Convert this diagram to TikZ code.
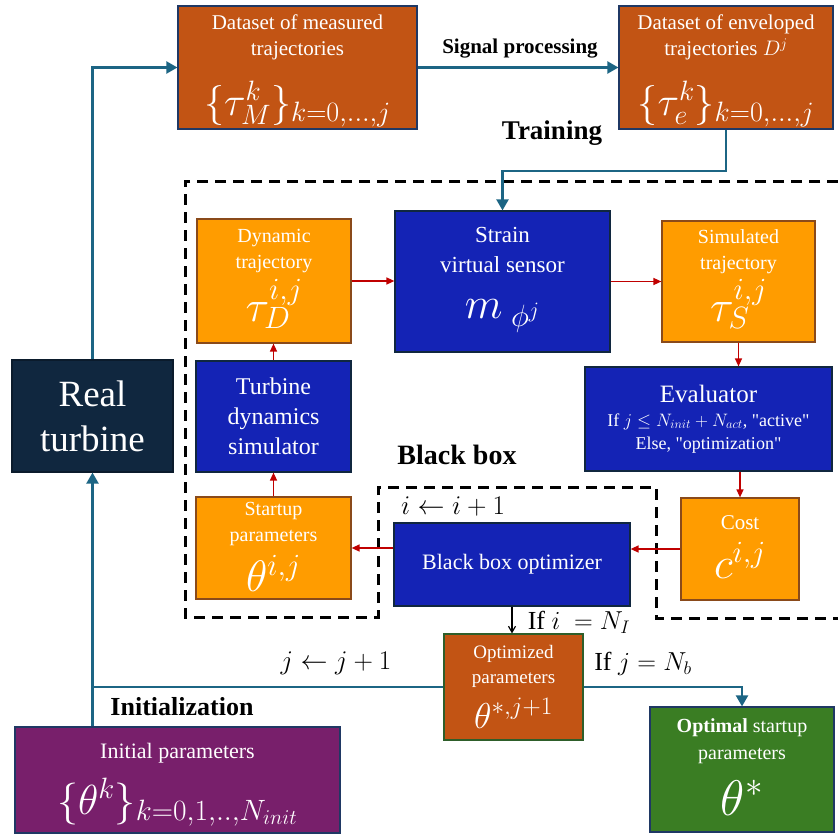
\RequirePackage{fix-cm}
\documentclass[tikz,border=0pt]{standalone}
\usepackage{fontspec}
\setmainfont{Liberation Serif}
\usetikzlibrary{arrows.meta}
\definecolor{burnt}{HTML}{C25414}
\definecolor{amber}{HTML}{FF9C00}
\definecolor{royal}{HTML}{1423B5}
\definecolor{navy}{HTML}{10273F}
\definecolor{plum}{HTML}{781F6B}
\definecolor{leaf}{HTML}{3A7D23}
\definecolor{flowblue}{HTML}{1C6584}
\definecolor{loopred}{HTML}{C00000}
\definecolor{edgeblue}{HTML}{1F3864}
\definecolor{edgebrown}{HTML}{8A4A1A}
\definecolor{edgegreen}{HTML}{2E5E2A}
\newcommand{\fsz}[2]{\fontsize{#1}{#2}\selectfont}
\newcommand{\dq}{\textquotedbl}
\begin{document}
\begin{tikzpicture}[x=1pt,y=-1pt,
  every node/.style={inner sep=0pt, align=center},
  boxbase/.style={draw, line width=1.2pt, text=white},
  dataset/.style={boxbase, fill=burnt, draw=edgeblue},
  stagebox/.style={boxbase, fill=amber, draw=edgebrown},
  engine/.style={boxbase, fill=royal, draw=navy},
  caption/.style={anchor=north, text=white},
  formula/.style={anchor=base, text=white},
  flow/.style={draw=flowblue, line width=2.2pt, -{Triangle[width=12pt,length=11pt]}},
  plainflow/.style={draw=flowblue, line width=2.2pt},
  loop/.style={draw=loopred, line width=1.4pt, -{Triangle[width=7pt,length=8pt]}},
  exitflow/.style={draw=black, line width=1.2pt, -{Straight Barb[width=7pt,length=6pt]}},
  region/.style={draw=black, line width=3pt, dash pattern=on 11pt off 7pt},
  tag/.style={font=\bfseries}]

\useasboundingbox (0,0) rectangle (838,835);

% training loop region and black-box region
\draw[region] (838,181) -- (185,181) -- (185,617) -- (378,617) -- (378,487)
  -- (656,487) -- (656,618) -- (838,618);

% ---------- boxes ----------
% data sets
\node[dataset, minimum width=239pt, minimum height=123pt] (meas) at (297.5,67.5) {};
\node[caption, font=\fsz{21}{26}] (measT) at (297.5,15) {Dataset of measured\\trajectories};
\node[formula, font=\fsz{40}{40}] (measM) at (297.5,115) {$\{\tau_M^{k}\}_{k=0,\dots,j}$};

\node[dataset, minimum width=214pt, minimum height=123pt] (env) at (726,67.5) {};
\node[caption, font=\fsz{21}{26}] (envT) at (726,15) {Dataset of enveloped\\trajectories $D^{j}$};
\node[formula, font=\fsz{40}{40}] (envM) at (726,115) {$\{\tau_e^{k}\}_{k=0,\dots,j}$};

% plant
\node[boxbase, fill=navy, draw=navy!70!black, minimum width=161pt, minimum height=112pt,
  font=\fsz{37}{45}] (real) at (92.5,416) {Real\\turbine};

% training loop
\node[stagebox, minimum width=154pt, minimum height=124pt] (dyn) at (274,281) {};
\node[caption, font=\fsz{20}{26}] (dynT) at (274,229) {Dynamic\\trajectory};
\node[formula, font=\fsz{44}{44}] (dynM) at (274,321) {$\tau_D^{i,j}$};

\node[engine, minimum width=215pt, minimum height=141pt] (strain) at (502.5,281.5) {};
\node[caption, font=\fsz{23}{30}] (strainT) at (502.5,227) {Strain\\virtual sensor};
\node[formula, font=\fsz{44}{44}] (strainM) at (502.5,318) {$m_{\;\phi^{j}}$};

\node[stagebox, minimum width=153pt, minimum height=121pt] (sim) at (738.5,281.5) {};
\node[caption, font=\fsz{20}{26}] (simT) at (738.5,229) {Simulated\\trajectory};
\node[formula, font=\fsz{44}{44}] (simM) at (738.5,321) {$\tau_S^{i,j}$};

\node[engine, minimum width=155pt, minimum height=111pt, font=\fsz{24}{30}] (tds) at (273.5,416.5)
  {Turbine\\dynamics\\simulator};
\node[engine, minimum width=247pt, minimum height=104pt, font=\fsz{18}{23}] (eval) at (708.5,419)
  {{\fsz{25}{30}Evaluator}\\[1pt]If $j\le N_{init}+N_{act}$, \dq active\dq\\Else, \dq optimization\dq};

\node[stagebox, minimum width=155pt, minimum height=102pt] (start) at (273.5,548) {};
\node[caption, font=\fsz{20}{26}] (startT) at (273.5,502) {Startup\\parameters};
\node[formula, font=\fsz{44}{44}] (startM) at (273.5,591) {$\theta^{i,j}$};

\node[engine, minimum width=236pt, minimum height=83pt, font=\fsz{22}{26}] (bbo) at (512,564.5)
  {Black box optimizer};

\node[stagebox, minimum width=118pt, minimum height=102pt] (cost) at (740,549) {};
\node[caption, font=\fsz{21}{26}] (costT) at (740,515.5) {Cost};
\node[formula, font=\fsz{44}{44}] (costM) at (740,578) {$c^{i,j}$};

% outputs and initialisation
\node[dataset, draw=edgegreen, minimum width=139pt, minimum height=106pt] (opt) at (513.5,687) {};
\node[caption, font=\fsz{19}{25}] (optT) at (513.5,645) {Optimized\\parameters};
\node[formula, font=\fsz{36}{36}] (optM) at (513.5,728) {$\theta^{*,j+1}$};

\node[boxbase, fill=plum, draw=edgeblue, minimum width=325pt, minimum height=106pt] (init) at (177.5,780) {};
\node[caption, font=\fsz{22}{28}] (initT) at (177.5,743) {Initial parameters};
\node[formula, font=\fsz{42}{42}] (initM) at (177.5,814) {$\{\theta^{k}\}_{k=0,1,..,N_{init}}$};

\node[boxbase, fill=leaf, draw=edgeblue, minimum width=184pt, minimum height=125pt] (optimal) at (742,769.5) {};
\node[caption, font=\fsz{20}{27}] (optimalT) at (742,718) {\textbf{Optimal} startup\\parameters};
\node[formula, font=\fsz{50}{50}] (optimalM) at (742,815) {$\theta^{*}$};

% ---------- labels ----------
\node[tag] (lsig) at (520,49) {\fsz{21}{21}Signal processing};
\node[tag] (ltrain) at (552,133) {\fsz{27}{27}Training};
\node[tag] (lbb) at (457,455) {\fsz{28}{28}Black box};
\node[tag] (linit) at (182,707) {\fsz{26}{26}Initialization};
\node (liter) at (453,507) {\fsz{27}{27}$i\leftarrow i+1$};
\node (lstop) at (579,622) {\fsz{26}{26}If $i\ =N_{I}$};
\node (lnext) at (336,663) {\fsz{27}{27}$j\leftarrow j+1$};
\node (lend) at (643,664) {\fsz{26}{26}If $j=N_{b}$};

% ---------- data flow ----------
\draw[flow] (real.north) |- (meas.west);
\draw[flow] (meas.east) -- (env.west);
\draw[flow] (env.south) -- ++(0,41) -| (strain.north);
\draw[plainflow] (opt.west) -- (opt.west -| real.south);
\draw[flow] (init.north -| real.south) -- (real.south);
\draw[flow] (opt.east) -| (optimal.north);

% ---------- inner optimisation loop ----------
\draw[loop] (dyn.east) -- (dyn.east -| strain.west);
\draw[loop] (strain.east |- sim.west) -- (sim.west);
\draw[loop] (sim.south) -- (sim.south |- eval.north);
\draw[loop] (cost.north |- eval.south) -- (cost.north);
\draw[loop] (cost.west) -- (cost.west -| bbo.east);
\draw[loop] (bbo.west |- start.east) -- (start.east);
\draw[loop] (start.north) -- (start.north |- tds.south);
\draw[loop] (tds.north) -- (tds.north |- dyn.south);
\draw[exitflow] (bbo.south) -- (bbo.south |- opt.north);

\end{tikzpicture}
\end{document}
